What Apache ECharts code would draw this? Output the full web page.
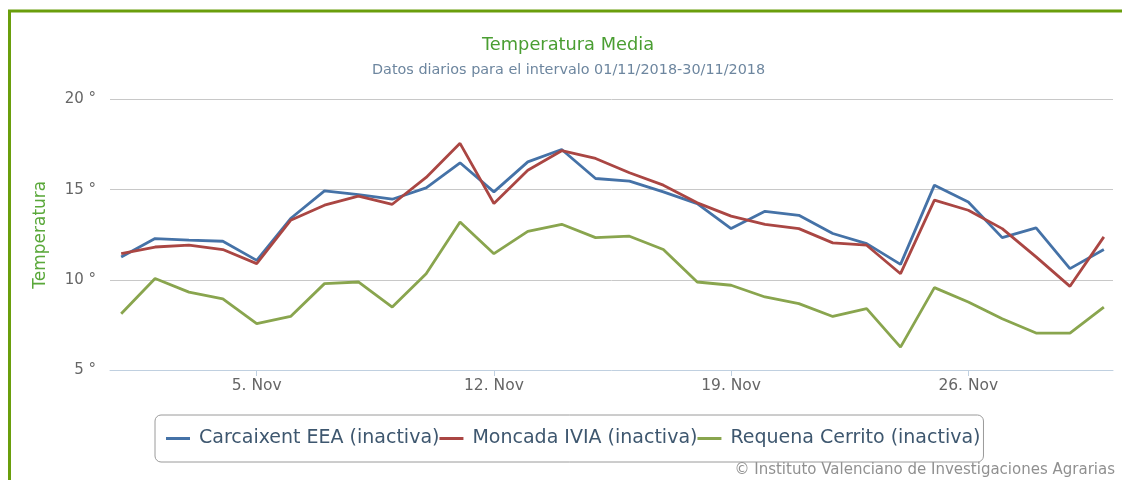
<!DOCTYPE html>
<html>
<head>
<meta charset="utf-8">
<script src="https://cdn.jsdelivr.net/npm/echarts@6/dist/echarts.min.js"></script>
<style>
  html, body { margin: 0; padding: 0; background: #fff; }
  #chart { width: 1122px; height: 480px; }
</style>
</head>
<body>
<div id="chart"></div>
<script>
const days = [1,2,3,4,5,6,7,8,9,10,11,12,13,14,15,16,17,18,19,20,21,22,23,24,25,26,27,28,29,30];
const tickDays = [5, 12, 19, 26];
const yTicks = [5, 10, 15, 20];
const seriesNames = ['Carcaixent EEA (inactiva)', 'Moncada IVIA (inactiva)', 'Requena Cerrito (inactiva)'];
const carcaixent = [11.27, 12.29, 12.2, 12.14, 11.08, 13.4, 14.93, 14.73, 14.47, 15.1, 16.49, 14.88, 16.54, 17.23, 15.62, 15.47, 14.88, 14.23, 12.84, 13.8, 13.58, 12.57, 12.01, 10.86, 15.25, 14.32, 12.34, 12.88, 10.62, 11.68];
const moncada = [11.45, 11.82, 11.92, 11.68, 10.9, 13.3, 14.14, 14.64, 14.19, 15.68, 17.57, 14.23, 16.08, 17.16, 16.73, 15.94, 15.25, 14.27, 13.53, 13.08, 12.84, 12.05, 11.92, 10.34, 14.42, 13.86, 12.84, 11.27, 9.64, 12.38];
const requena = [8.12, 10.07, 9.32, 8.95, 7.57, 7.97, 9.79, 9.88, 8.49, 10.34, 13.21, 11.45, 12.69, 13.08, 12.34, 12.42, 11.68, 9.88, 9.7, 9.05, 8.68, 7.97, 8.4, 6.27, 9.57, 8.77, 7.84, 7.05, 7.05, 8.49];
const colors = ['#4572A7', '#AA4643', '#89A54E'];

const FONT = 'DejaVu Sans';
const pair = arr => days.map((d, i) => [d, arr[i]]);

const chart = echarts.init(document.getElementById('chart'), null, { renderer: 'canvas' });
chart.setOption({
  animation: false,
  color: colors,
  title: [
    { text: 'Temperatura Media', left: 482, top: 36, padding: 0,
      textStyle: { fontFamily: FONT, fontSize: 17.8, fontWeight: 'normal', color: '#4a9e32' } },
    { text: 'Datos diarios para el intervalo 01/11/2018-30/11/2018', left: 372, top: 63, padding: 0,
      textStyle: { fontFamily: FONT, fontSize: 14.4, fontWeight: 'normal', color: '#6D869F' } }
  ],
  grid: { left: 110, right: 9, top: 99.5, bottom: 110, containLabel: false },
  xAxis: {
    type: 'value',
    min: 0.67,
    max: 30.27,
    splitLine: { show: false },
    axisLine: { show: true, lineStyle: { color: '#C0D0E0', width: 1 } },
    axisTick: { show: true, customValues: tickDays, length: 6, lineStyle: { color: '#C0D0E0' } },
    axisLabel: {
      customValues: tickDays,
      formatter: v => v + '. Nov',
      fontFamily: FONT, fontSize: 15.5, color: '#666', margin: 8
    }
  },
  yAxis: {
    type: 'value',
    min: 5, max: 20, interval: 5,
    name: 'Temperatura',
    nameLocation: 'middle',
    nameGap: 61,
    nameTextStyle: { fontFamily: FONT, fontSize: 17, color: '#5aa83a' },
    axisLine: { show: false },
    axisTick: { show: false },
    axisLabel: { formatter: v => v + ' °', fontFamily: FONT, fontSize: 15, color: '#666', margin: 14 },
    splitLine: { show: true, showMinLine: false, lineStyle: { color: '#C8C8C8', width: 1 } }
  },
  legend: {
    left: 155, top: 415,
    orient: 'horizontal',
    padding: [12, 3, 12, 11],
    itemGap: 0,
    itemWidth: 24, itemHeight: 3,
    icon: 'rect',
    borderColor: '#9a9a9a', borderWidth: 1, borderRadius: 6,
    textStyle: { fontFamily: FONT, fontSize: 19, color: '#3E576F', lineHeight: 23, padding: [0, 0, 0, 4] },
    data: seriesNames
  },
  graphic: [
    { type: 'polyline', silent: true, z: 100,
      shape: { points: [[9.5, 480], [9.5, 11], [1122, 11]] },
      style: { stroke: '#6a9e0c', lineWidth: 3, fill: null } },
    { type: 'text', right: 7, top: 463, silent: true,
      style: { text: '© Instituto Valenciano de Investigaciones Agrarias', font: '15px "DejaVu Sans"', fill: '#909090' } }
  ],
  series: [
    { name: seriesNames[0], type: 'line', data: pair(carcaixent), symbol: 'none', lineStyle: { width: 2.8 } },
    { name: seriesNames[1], type: 'line', data: pair(moncada), symbol: 'none', lineStyle: { width: 2.8 } },
    { name: seriesNames[2], type: 'line', data: pair(requena), symbol: 'none', lineStyle: { width: 2.8 } }
  ]
});
</script>
</body>
</html>
